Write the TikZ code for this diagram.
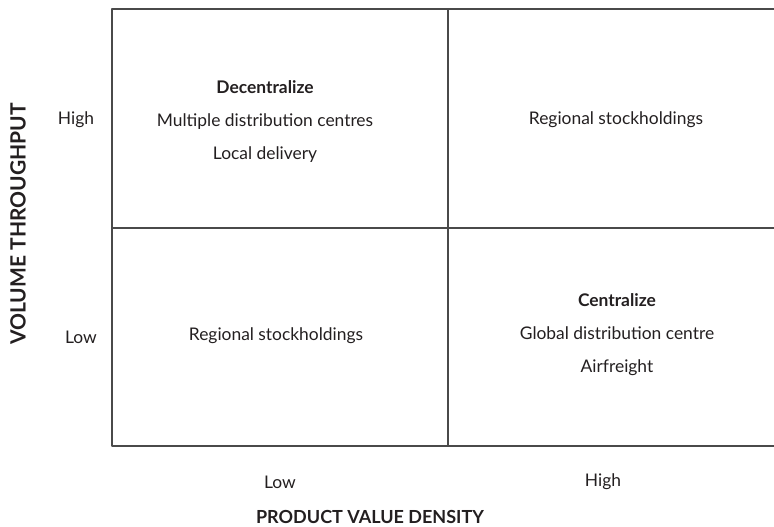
\documentclass[tikz,border=0pt]{standalone}
\usepackage{fontspec}
\setmainfont{Lato}
\usetikzlibrary{positioning}
\definecolor{ink}{HTML}{231F20}
\definecolor{rule}{HTML}{4A4A4A}
\tikzset{
  cell/.style={align=center,text=ink,inner sep=0pt,
               font=\fontsize{8.7}{16.5}\selectfont},
  tick/.style={text=ink,inner sep=0pt,font=\fontsize{8.7}{10}\selectfont},
  axis/.style={text=ink,inner sep=0pt,font=\fontsize{9}{10}\selectfont\bfseries},
  every picture/.style={line cap=round,line join=round}}

\begin{document}
\begin{tikzpicture}[x=0.5pt,y=-0.5pt]
  \useasboundingbox (0,0) rectangle (774,526);
  \clip (0,0) rectangle (774,526);
  % grid
  \draw[rule,line width=0.7pt] (112,9) rectangle (784,446);
  \draw[rule,line width=0.7pt] (448,9) -- (448,446) (112,228) -- (784,228);
  % cells
  \node[cell] (tl) at (265,122){\textbf{Decentralize}\\Multiple distribution centres\\Local delivery};
  \node[cell] (tr) at (616,120){Regional stockholdings};
  \node[cell] (bl) at (276,336){Regional stockholdings};
  \node[cell] (br) at (617,335){\textbf{Centralize}\\Global distribution centre\\Airfreight};
  % axes
  \node[tick] (yhi) at (76,120){High};
  \node[tick] (ylo) at (81,337){Low};
  \node[tick] (xlo) at (280,482){Low};
  \node[tick] (xhi) at (603,482){High};
  \node[axis] (xlab) at (370,517){PRODUCT VALUE DENSITY};
  \node[axis,font=\fontsize{10.5}{12}\selectfont\bfseries,rotate=90] (ylab) at (18,224){VOLUME THROUGHPUT};
\end{tikzpicture}
\end{document}
